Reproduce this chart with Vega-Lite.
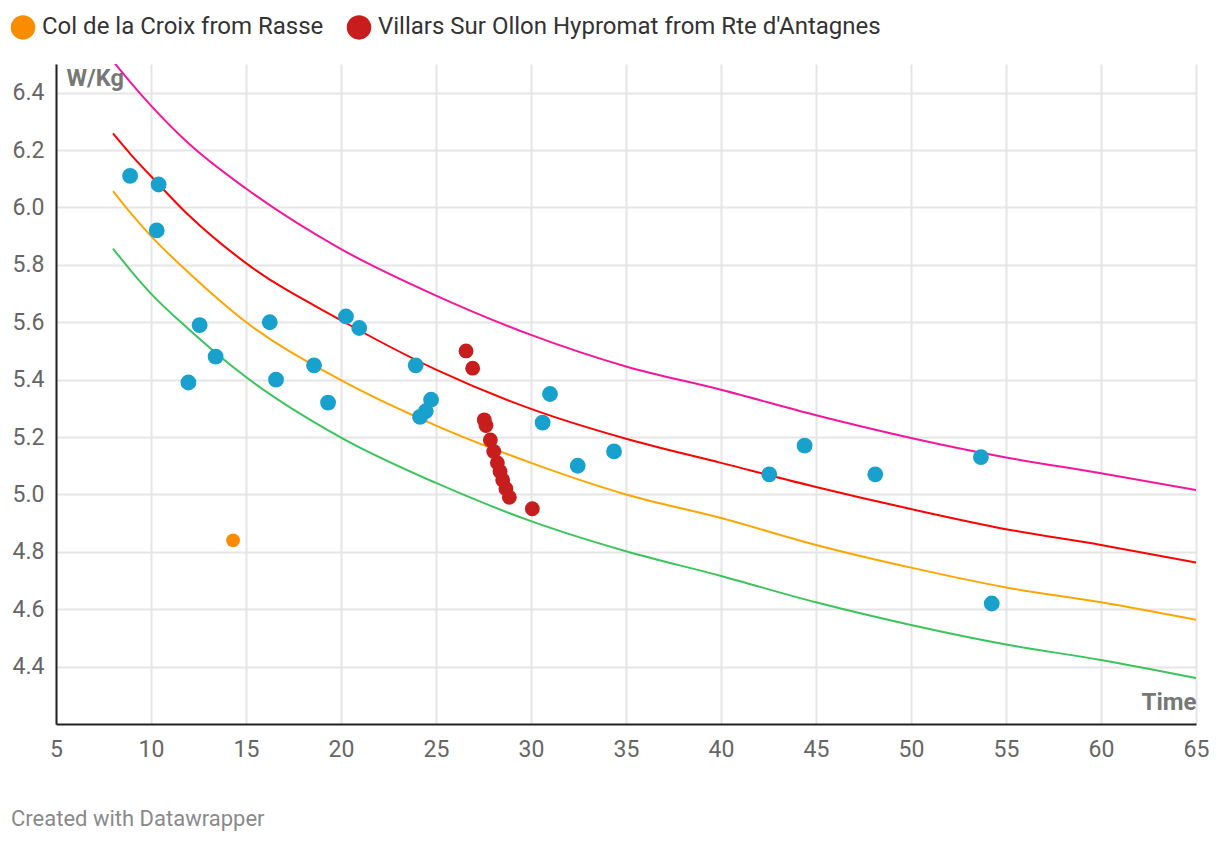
{
  "$schema": "https://vega.github.io/schema/vega-lite/v6.json",
  "width": 1140,
  "height": 660,
  "autosize": {"type": "none"},
  "padding": {"left": 56, "top": 64, "right": 24, "bottom": 120},
  "background": "white",
  "config": {
    "font": "Roboto",
    "view": {"stroke": null}
  },
  "title": {
    "text": "Created with Datawrapper",
    "orient": "bottom",
    "anchor": "start",
    "frame": "group",
    "fontSize": 22,
    "fontWeight": "normal",
    "color": "#8a8a8a",
    "font": "Roboto",
    "dx": -45,
    "offset": 48
  },
  "datasets": {
    "curves": [
      {"curve": "Curve 1", "time": 8, "wkg": 6.51},
      {"curve": "Curve 1", "time": 9, "wkg": 6.43},
      {"curve": "Curve 1", "time": 10, "wkg": 6.355},
      {"curve": "Curve 1", "time": 12, "wkg": 6.222},
      {"curve": "Curve 1", "time": 15, "wkg": 6.066},
      {"curve": "Curve 1", "time": 20, "wkg": 5.855},
      {"curve": "Curve 1", "time": 25, "wkg": 5.693},
      {"curve": "Curve 1", "time": 30, "wkg": 5.556},
      {"curve": "Curve 1", "time": 35, "wkg": 5.446},
      {"curve": "Curve 1", "time": 40, "wkg": 5.365},
      {"curve": "Curve 1", "time": 45, "wkg": 5.276},
      {"curve": "Curve 1", "time": 50, "wkg": 5.197},
      {"curve": "Curve 1", "time": 55, "wkg": 5.129},
      {"curve": "Curve 1", "time": 60, "wkg": 5.074},
      {"curve": "Curve 1", "time": 65, "wkg": 5.015},
      {"curve": "Curve 2", "time": 8, "wkg": 6.258},
      {"curve": "Curve 2", "time": 9, "wkg": 6.18},
      {"curve": "Curve 2", "time": 10, "wkg": 6.109},
      {"curve": "Curve 2", "time": 12, "wkg": 5.972},
      {"curve": "Curve 2", "time": 15, "wkg": 5.806},
      {"curve": "Curve 2", "time": 20, "wkg": 5.607},
      {"curve": "Curve 2", "time": 25, "wkg": 5.435},
      {"curve": "Curve 2", "time": 30, "wkg": 5.298},
      {"curve": "Curve 2", "time": 35, "wkg": 5.194},
      {"curve": "Curve 2", "time": 40, "wkg": 5.11},
      {"curve": "Curve 2", "time": 45, "wkg": 5.026},
      {"curve": "Curve 2", "time": 50, "wkg": 4.949},
      {"curve": "Curve 2", "time": 55, "wkg": 4.879},
      {"curve": "Curve 2", "time": 60, "wkg": 4.824},
      {"curve": "Curve 2", "time": 65, "wkg": 4.763},
      {"curve": "Curve 3", "time": 8, "wkg": 6.057},
      {"curve": "Curve 3", "time": 9, "wkg": 5.975},
      {"curve": "Curve 3", "time": 10, "wkg": 5.9},
      {"curve": "Curve 3", "time": 12, "wkg": 5.772},
      {"curve": "Curve 3", "time": 15, "wkg": 5.601},
      {"curve": "Curve 3", "time": 20, "wkg": 5.398},
      {"curve": "Curve 3", "time": 25, "wkg": 5.24},
      {"curve": "Curve 3", "time": 30, "wkg": 5.11},
      {"curve": "Curve 3", "time": 35, "wkg": 5.0},
      {"curve": "Curve 3", "time": 40, "wkg": 4.918},
      {"curve": "Curve 3", "time": 45, "wkg": 4.824},
      {"curve": "Curve 3", "time": 50, "wkg": 4.745},
      {"curve": "Curve 3", "time": 55, "wkg": 4.676},
      {"curve": "Curve 3", "time": 60, "wkg": 4.624},
      {"curve": "Curve 3", "time": 65, "wkg": 4.563},
      {"curve": "Curve 4", "time": 8, "wkg": 5.857},
      {"curve": "Curve 4", "time": 9, "wkg": 5.775},
      {"curve": "Curve 4", "time": 10, "wkg": 5.7},
      {"curve": "Curve 4", "time": 12, "wkg": 5.575},
      {"curve": "Curve 4", "time": 15, "wkg": 5.409},
      {"curve": "Curve 4", "time": 20, "wkg": 5.198},
      {"curve": "Curve 4", "time": 25, "wkg": 5.04},
      {"curve": "Curve 4", "time": 30, "wkg": 4.907},
      {"curve": "Curve 4", "time": 35, "wkg": 4.802},
      {"curve": "Curve 4", "time": 40, "wkg": 4.716},
      {"curve": "Curve 4", "time": 45, "wkg": 4.624},
      {"curve": "Curve 4", "time": 50, "wkg": 4.545},
      {"curve": "Curve 4", "time": 55, "wkg": 4.477},
      {"curve": "Curve 4", "time": 60, "wkg": 4.423},
      {"curve": "Curve 4", "time": 65, "wkg": 4.36}
    ],
    "points": [
      {"series": "Other climbs", "time": 8.9, "wkg": 6.11},
      {"series": "Other climbs", "time": 10.4, "wkg": 6.08},
      {"series": "Other climbs", "time": 10.3, "wkg": 5.92},
      {"series": "Other climbs", "time": 12.56, "wkg": 5.59},
      {"series": "Other climbs", "time": 11.97, "wkg": 5.39},
      {"series": "Other climbs", "time": 13.4, "wkg": 5.48},
      {"series": "Other climbs", "time": 16.25, "wkg": 5.6},
      {"series": "Other climbs", "time": 16.58, "wkg": 5.4},
      {"series": "Other climbs", "time": 18.58, "wkg": 5.45},
      {"series": "Other climbs", "time": 19.32, "wkg": 5.32},
      {"series": "Other climbs", "time": 20.26, "wkg": 5.62},
      {"series": "Other climbs", "time": 20.96, "wkg": 5.58},
      {"series": "Other climbs", "time": 23.93, "wkg": 5.45},
      {"series": "Other climbs", "time": 24.74, "wkg": 5.33},
      {"series": "Other climbs", "time": 24.46, "wkg": 5.29},
      {"series": "Other climbs", "time": 24.16, "wkg": 5.27},
      {"series": "Other climbs", "time": 31.0, "wkg": 5.35},
      {"series": "Other climbs", "time": 30.61, "wkg": 5.25},
      {"series": "Other climbs", "time": 32.46, "wkg": 5.1},
      {"series": "Other climbs", "time": 34.37, "wkg": 5.15},
      {"series": "Other climbs", "time": 42.54, "wkg": 5.07},
      {"series": "Other climbs", "time": 44.4, "wkg": 5.17},
      {"series": "Other climbs", "time": 48.12, "wkg": 5.07},
      {"series": "Other climbs", "time": 53.68, "wkg": 5.13},
      {"series": "Other climbs", "time": 54.25, "wkg": 4.62},
      {"series": "Col de la Croix from Rasse", "time": 14.32, "wkg": 4.84},
      {"series": "Villars Sur Ollon Hypromat from Rte d'Antagnes", "time": 26.58, "wkg": 5.5},
      {"series": "Villars Sur Ollon Hypromat from Rte d'Antagnes", "time": 26.93, "wkg": 5.44},
      {"series": "Villars Sur Ollon Hypromat from Rte d'Antagnes", "time": 27.54, "wkg": 5.26},
      {"series": "Villars Sur Ollon Hypromat from Rte d'Antagnes", "time": 27.63, "wkg": 5.24},
      {"series": "Villars Sur Ollon Hypromat from Rte d'Antagnes", "time": 27.86, "wkg": 5.19},
      {"series": "Villars Sur Ollon Hypromat from Rte d'Antagnes", "time": 28.04, "wkg": 5.15},
      {"series": "Villars Sur Ollon Hypromat from Rte d'Antagnes", "time": 28.23, "wkg": 5.11},
      {"series": "Villars Sur Ollon Hypromat from Rte d'Antagnes", "time": 28.37, "wkg": 5.08},
      {"series": "Villars Sur Ollon Hypromat from Rte d'Antagnes", "time": 28.51, "wkg": 5.05},
      {"series": "Villars Sur Ollon Hypromat from Rte d'Antagnes", "time": 28.68, "wkg": 5.02},
      {"series": "Villars Sur Ollon Hypromat from Rte d'Antagnes", "time": 28.86, "wkg": 4.99},
      {"series": "Villars Sur Ollon Hypromat from Rte d'Antagnes", "time": 30.07, "wkg": 4.95}
    ]
  },
  "layer": [
    {
      "data": {"name": "curves"},
      "mark": {"type": "line", "strokeWidth": 2, "interpolate": "monotone", "clip": true},
      "encoding": {
        "x": {
          "field": "time",
          "type": "quantitative",
          "scale": {"domain": [5, 65], "nice": false, "zero": false},
          "axis": {
            "title": "Time",
            "titleX": 1140,
            "titleY": -22,
            "titleAlign": "right",
            "titleBaseline": "middle",
            "titleFontSize": 24,
            "titleFontWeight": "bold",
            "titleColor": "#777777",
            "values": [5, 10, 15, 20, 25, 30, 35, 40, 45, 50, 55, 60, 65],
            "grid": true,
            "gridColor": "#e5e5e5",
            "gridWidth": 2,
            "domain": true,
            "domainColor": "#222222",
            "domainWidth": 2,
            "ticks": false,
            "labelFontSize": 23,
            "labelColor": "#666666",
            "labelPadding": 14,
            "labelFlush": false,
            "labelOverlap": false
          }
        },
        "y": {
          "field": "wkg",
          "type": "quantitative",
          "scale": {"domain": [4.2, 6.5], "nice": false, "zero": false},
          "axis": {
            "title": "W/Kg",
            "titleAngle": 0,
            "titleX": 10,
            "titleY": 14,
            "titleAlign": "left",
            "titleBaseline": "middle",
            "titleFontSize": 23.5,
            "titleFontWeight": "bold",
            "titleColor": "#777777",
            "values": [4.4, 4.6, 4.8, 5.0, 5.2, 5.4, 5.6, 5.8, 6.0, 6.2, 6.4],
            "format": ".1f",
            "grid": true,
            "gridColor": "#e5e5e5",
            "gridWidth": 2,
            "domain": true,
            "domainColor": "#222222",
            "domainWidth": 2,
            "ticks": false,
            "labelFontSize": 23,
            "labelColor": "#666666",
            "labelPadding": 12,
            "labelOverlap": false
          }
        },
        "color": {
          "field": "curve",
          "type": "nominal",
          "scale": {
            "domain": ["Curve 1", "Curve 2", "Curve 3", "Curve 4"],
            "range": ["#f5169c", "#ff0000", "#ffa500", "#3cc45c"]
          },
          "legend": null
        }
      }
    },
    {
      "data": {"name": "points"},
      "mark": {"type": "circle", "opacity": 1},
      "encoding": {
        "x": {"field": "time", "type": "quantitative"},
        "y": {"field": "wkg", "type": "quantitative"},
        "color": {
          "field": "series",
          "type": "nominal",
          "scale": {
            "domain": ["Col de la Croix from Rasse", "Villars Sur Ollon Hypromat from Rte d'Antagnes", "Other climbs"],
            "range": ["#fa8c00", "#c71e1d", "#18a1cd"]
          },
          "legend": {
            "orient": "none",
            "legendX": -46,
            "legendY": -50,
            "direction": "horizontal",
            "title": null,
            "symbolType": "circle",
            "symbolSize": 600,
            "symbolOpacity": 1,
            "labelFontSize": 24,
            "labelColor": "#333333",
            "labelFont": "Roboto",
            "labelOffset": 6,
            "columnPadding": 22,
            "labelLimit": 700,
            "values": ["Col de la Croix from Rasse", "Villars Sur Ollon Hypromat from Rte d'Antagnes"]
          }
        },
        "size": {
          "field": "series",
          "type": "nominal",
          "scale": {
            "domain": ["Col de la Croix from Rasse", "Villars Sur Ollon Hypromat from Rte d'Antagnes", "Other climbs"],
            "range": [190, 250, 250]
          },
          "legend": null
        }
      }
    }
  ],
  "resolve": {"scale": {"color": "independent"}}
}
